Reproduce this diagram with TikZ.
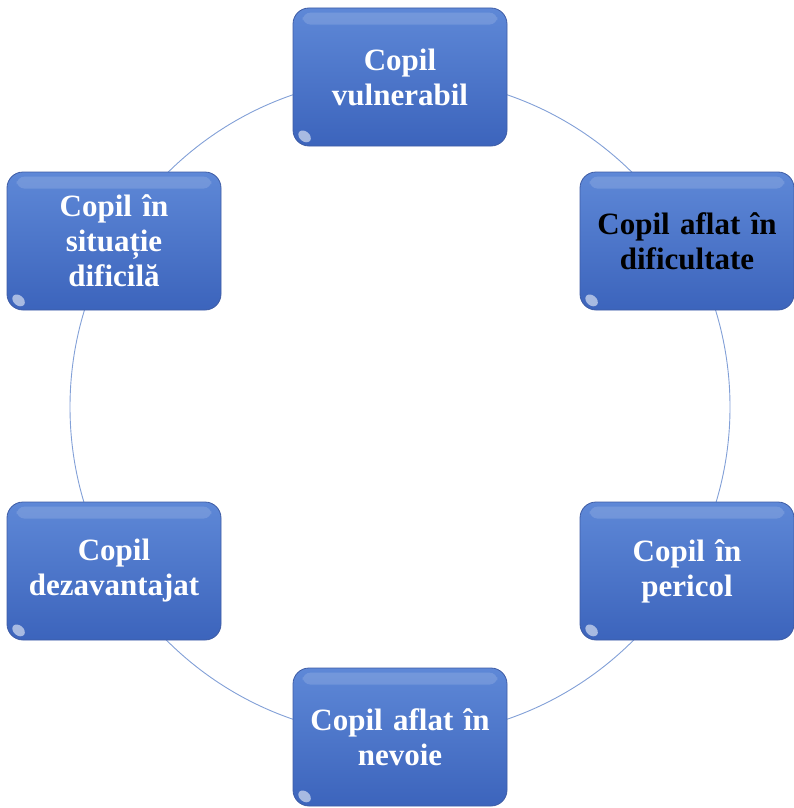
\documentclass[tikz,border=0pt]{standalone}
\usepackage{fontspec}
\setmainfont{Liberation Serif}
\definecolor{boxtop}{RGB}{94,136,215}
\definecolor{boxbot}{RGB}{60,100,188}
\definecolor{boxedge}{RGB}{62,92,165}
\definecolor{ringcol}{RGB}{130,160,215}
\tikzset{
  box/.style={rectangle, rounded corners=16pt, minimum width=214pt, minimum height=138pt,
    top color=boxtop, bottom color=boxbot, draw=boxedge, line width=0.8pt,
    text width=205pt, align=center, text=white,
    font=\fontsize{31}{35}\selectfont\bfseries},
  ring/.style={draw=ringcol, line width=0.9pt},
  gloss/.style={fill=white, opacity=0.14, rounded corners=8pt},
  glint/.style={fill=white, opacity=0.55}
}
\begin{document}
\begin{tikzpicture}[x=1pt,y=-1pt]
\useasboundingbox (0,0) rectangle (794,808);
% connecting ring behind the boxes
\draw[ring] (400,407) circle[radius=330];
% the six boxes
\node[box] (n1) at (400,77) {Copil\\vulnerabil};
\node[box, text=black] (n2) at (687,241) {Copil aflat în\\dificultate};
\node[box] (n3) at (687,571) {Copil în\\pericol};
\node[box] (n4) at (400,737) {Copil aflat în\\nevoie};
\node[box] (n5) at (114,571) {Copil\\dezavantajat};
\node[box] (n6) at (114,241) {Copil în\\situație\\dificilă};
% glossy highlights
\foreach \n in {n1,n2,n3,n4,n5,n6}{
  \fill[gloss] ([xshift=10pt,yshift=-5pt]\n.north west) rectangle ([xshift=-10pt,yshift=-17pt]\n.north east);
  \fill[glint] ([xshift=12pt,yshift=10pt]\n.south west) ellipse[x radius=7pt, y radius=5pt, rotate=-40];
}
\end{tikzpicture}
\end{document}
